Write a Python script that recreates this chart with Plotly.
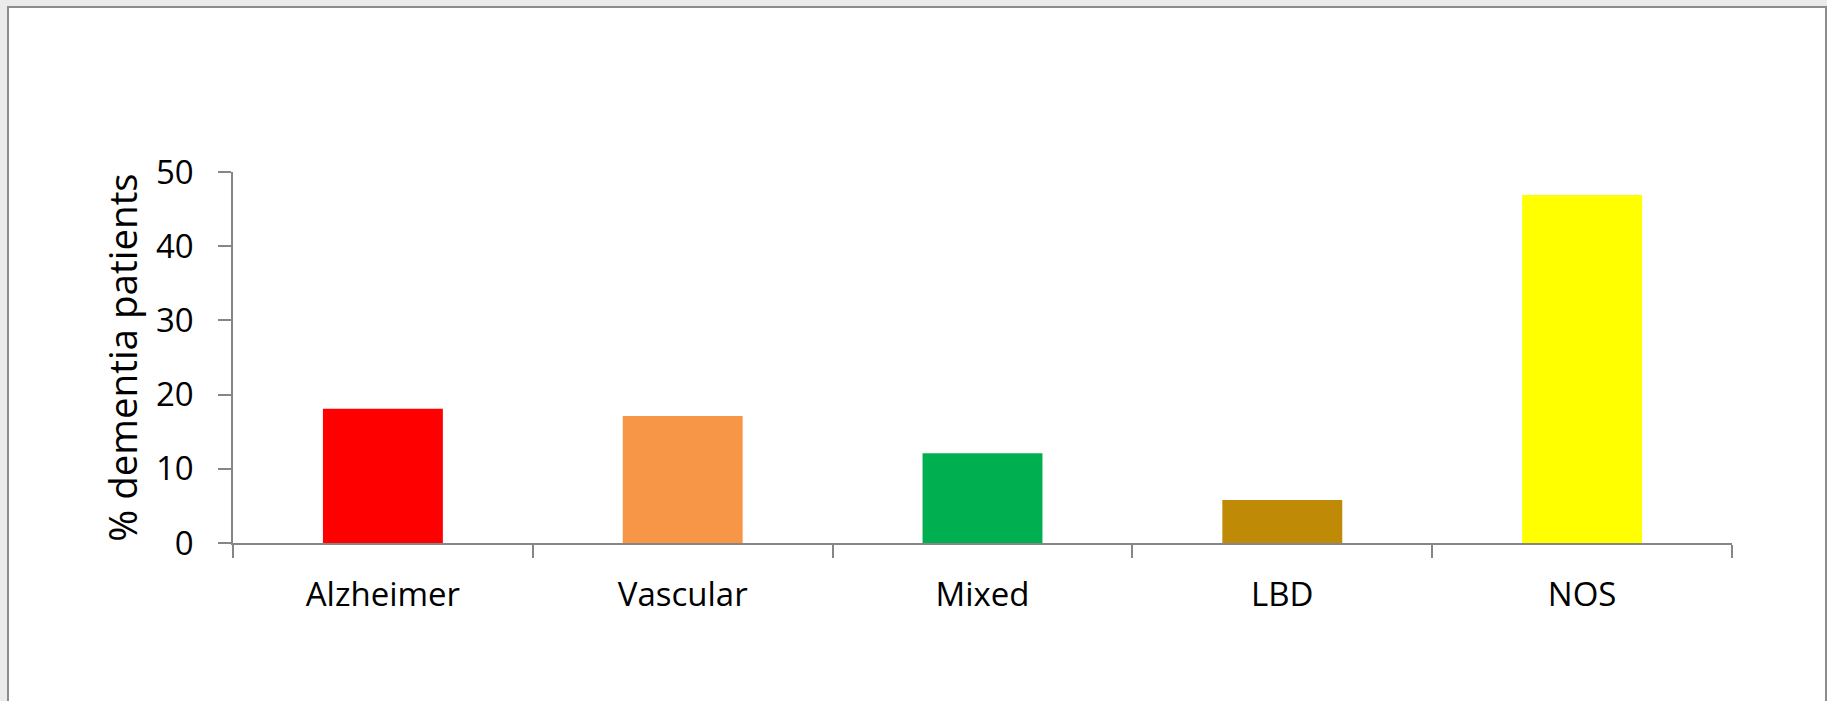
import plotly.graph_objects as go

categories = ["Alzheimer", "Vascular", "Mixed", "LBD", "NOS"]
values = [18.1, 17.1, 12.1, 5.8, 46.9]
bar_colors = ["#ff0000", "#f79646", "#00b050", "#bf8a06", "#ffff00"]
y_tick_values = [0, 10, 20, 30, 40, 50]
y_title = "% dementia patients"

W, H = 1827, 701
L, R, T, B = 233, 95, 172, 158
pw = W - L - R
ph = H - T - B

fig = go.Figure()
fig.add_trace(go.Bar(
    x=categories, y=values, marker=dict(color=bar_colors, line=dict(width=0)),
    width=0.4, showlegend=False, hoverinfo="x+y",
))

axis_col = "#868686"
font_family = "Open Sans"

# outer white frame with gray border (in paper coords extending beyond plot area)
fx0 = (8 - L) / pw
fx1 = (1826 - L) / pw
fy1 = (H - B - 7) / ph
fy0 = (H - B - 720) / ph
fig.add_shape(type="rect", xref="paper", yref="paper", x0=fx0, x1=fx1, y0=fy0, y1=fy1,
              line=dict(color="#8c8c8c", width=2), fillcolor="white", layer="below")

fig.update_layout(
    width=W, height=H,
    margin=dict(l=L, r=R, t=T, b=B),
    paper_bgcolor="#ebebeb",
    plot_bgcolor="rgba(0,0,0,0)",
    font=dict(family=font_family, color="black"),
    bargap=0.6,
    xaxis=dict(
        type="category", showline=True, linecolor=axis_col, linewidth=1.5,
        ticks="outside", tickson="boundaries", ticklen=13, tickwidth=1.5, tickcolor=axis_col,
        tickfont=dict(size=33, family=font_family, color="black"),
        ticklabelstandoff=22, showgrid=False, zeroline=False,
    ),
    yaxis=dict(
        range=[0, 50], tickvals=y_tick_values, showline=True, linecolor=axis_col, linewidth=1.5,
        ticks="outside", ticklen=13, tickwidth=1.5, tickcolor=axis_col,
        tickfont=dict(size=33, family=font_family, color="black"),
        ticklabelstandoff=18, showgrid=False, zeroline=False,
        title=dict(text=y_title, font=dict(size=38.5, family=font_family, color="black"), standoff=6),
    ),
)

fig.write_html(
    "out.html",
    config={"displayModeBar": False},
    post_script="document.body.style.margin='0';document.body.style.background='#ebebeb';document.body.style.overflow='hidden';",
)
